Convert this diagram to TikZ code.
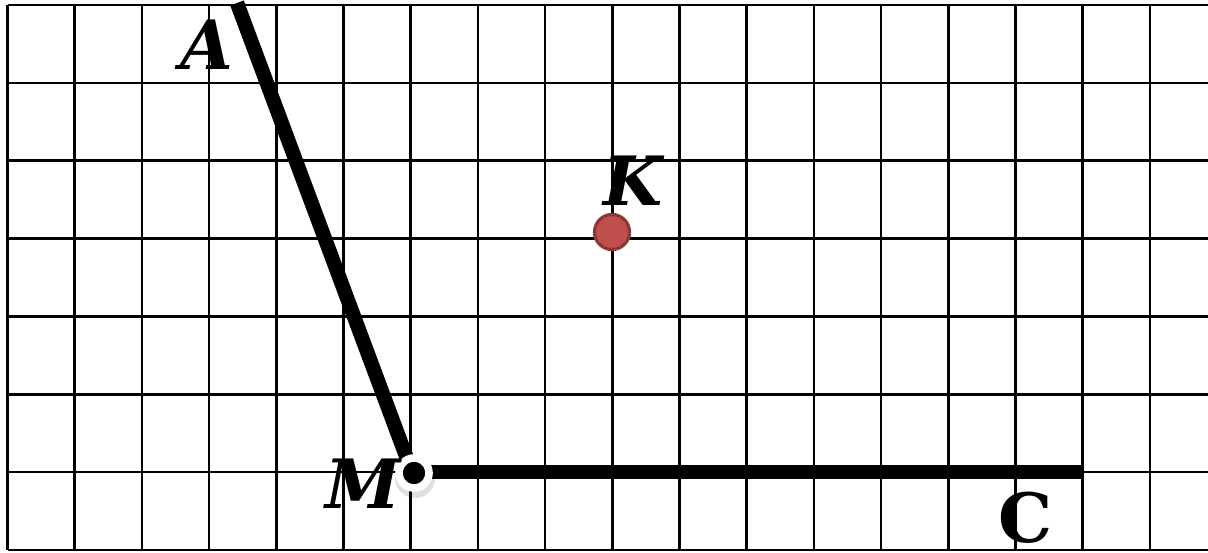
\documentclass[tikz,border=0pt]{standalone}
\usepackage{fontspec}
\setmainfont{DejaVu Serif}
\usepackage{tikz}
\usetikzlibrary{calc}

\begin{document}
\begin{tikzpicture}[
      x=0.5pt, y=-0.5pt,
      gridline/.style={line width=1.25pt, black},
      side/.style={line width=7.2pt, black},
      lbl/.style={inner sep=0pt, font=\fontsize{34}{34}\selectfont\bfseries\itshape},
      lblup/.style={inner sep=0pt, font=\fontsize{34}{34}\selectfont\bfseries},
      redpt/.style={circle, inner sep=0pt, minimum size=17.5pt, line width=1.6pt,
        draw={rgb,255:red,140;green,56;blue,54}, fill={rgb,255:red,192;green,80;blue,77}}
    ]
    \useasboundingbox (0,0) rectangle (1208,552);
    % grid
    \foreach \i in {0,...,17}
      \draw[gridline] ({7.5+67.2*\i},5) -- ({7.5+67.2*\i},550);
    \foreach \j in {0,...,7}
      \draw[gridline] (7.5,{5+77.86*\j}) -- (1208,{5+77.86*\j});
    % points
    \coordinate (M) at (412,472);
    \coordinate (A) at (237,3);
    \coordinate (C) at (1082,472);
    \node (K) [redpt] at (612,232) {};
    % sides
    \draw[side] (M) -- (A);
    \draw[side] (M) -- (C);
    \fill[black, opacity=0.12] ($(M)+(3,6)$) circle (10pt);
    \node (Mpt) [circle, fill=black, draw=white, line width=3.8pt,
      minimum size=15pt, inner sep=0pt] at ($(M)+(2,1)$) {};
    % labels
    \node (labA) [lbl] at (207,45) {A};
    \node (labK) [lbl] at (633,181) {K};
    \node (labM) [lbl] at (363,484) {M};
    \node (labC) [lblup] at (1026,518) {C};
\end{tikzpicture}
\end{document}
